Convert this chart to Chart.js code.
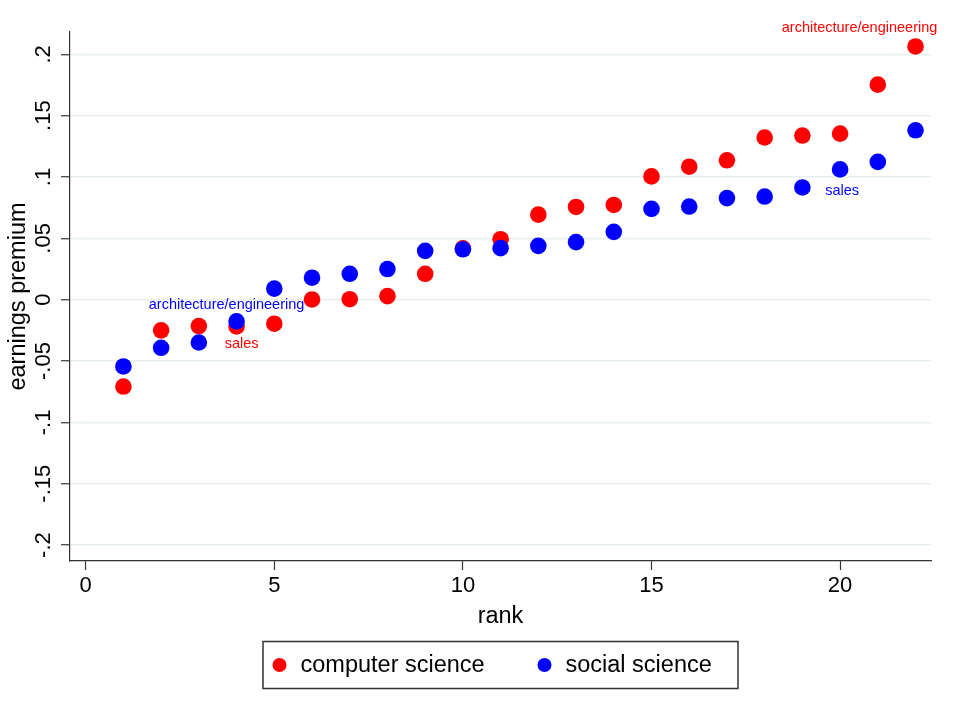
<!DOCTYPE html>
<html>
<head>
<meta charset="utf-8">
<title>earnings premium by rank</title>
<script src="https://cdn.jsdelivr.net/npm/chart.js@4.4.0/dist/chart.umd.min.js"></script>
<style>
    html, body { margin: 0; padding: 0; background: #fff; }
    #wrap { width: 954px; height: 719px; }
</style>
</head>
<body>
<div id="wrap"><canvas id="scatterChart" width="954" height="719"></canvas></div>
<script>
const ranks = [1, 2, 3, 4, 5, 6, 7, 8, 9, 10, 11, 12, 13, 14, 15, 16, 17, 18, 19, 20, 21, 22];
const computerScience = [-0.0708, -0.025, -0.0215, -0.0218, -0.0196, 0.0002, 0.0004, 0.0029, 0.0211, 0.0418, 0.0493,
    0.0693, 0.0756, 0.0772, 0.1005, 0.1084, 0.1136, 0.1322, 0.1338, 0.1354, 0.1753, 0.2064];
const socialScience = [-0.0544, -0.0392, -0.0349, -0.0177, 0.009, 0.0179, 0.0211, 0.025, 0.0398, 0.0411, 0.042,
    0.0439, 0.0469, 0.0553, 0.074, 0.0759, 0.0828, 0.0841, 0.0915, 0.1062, 0.1123, 0.1381];
const seriesNames = ['computer science', 'social science'];
const seriesColors = ['#ff0000', '#0000ff'];
const xTicks = [0, 5, 10, 15, 20];
const yTicks = [-0.2, -0.15, -0.1, -0.05, 0, 0.05, 0.1, 0.15, 0.2];

// marker labels: which series, which rank, what text
const labelSeries = [1, 0, 1, 0];
const labelRanks = [4, 4, 20, 22];
const labelTexts = ['architecture/engineering', 'sales', 'sales', 'architecture/engineering'];

const FONT = '"Liberation Sans", Arial, Helvetica, sans-serif';

function fmtTick(v) {
    const r = Math.round(v * 100) / 100;
    if (r === 0) return '0';
    return String(r).replace('0.', '.');
}

// offsets of each marker label from its point, in pixels
const labelOffsets = [[-10, -16], [5, 18], [2, 22], [-56, -18]];

const markerLabels = {
    id: 'markerLabels',
    afterDatasetsDraw(chart) {
        const ctx = chart.ctx;
        ctx.save();
        ctx.font = '14.5px ' + FONT;
        ctx.textAlign = 'center';
        ctx.textBaseline = 'middle';
        labelTexts.forEach((text, i) => {
            const ds = labelSeries[i];
            const idx = ranks.indexOf(labelRanks[i]);
            const pt = chart.getDatasetMeta(ds).data[idx];
            ctx.fillStyle = seriesColors[ds];
            ctx.fillText(text, pt.x + labelOffsets[i][0], pt.y + labelOffsets[i][1]);
        });
        ctx.restore();
    }
};

const boxedLegend = {
    id: 'boxedLegend',
    afterDraw(chart) {
        const ctx = chart.ctx;
        const area = chart.chartArea;
        const w = 475, h = 47;
        const left = (area.left + area.right) / 2 - w / 2;
        const top = 641.5;
        const midY = top + h / 2;
        ctx.save();
        ctx.strokeStyle = '#333';
        ctx.lineWidth = 1.5;
        ctx.strokeRect(left, top, w, h);
        ctx.font = '23.5px ' + FONT;
        ctx.textBaseline = 'middle';
        ctx.textAlign = 'left';
        const itemX = [16.5, 281.5];
        seriesNames.forEach((name, i) => {
            ctx.fillStyle = seriesColors[i];
            ctx.beginPath();
            ctx.arc(left + itemX[i], midY, 7, 0, Math.PI * 2);
            ctx.fill();
            ctx.fillStyle = '#000';
            ctx.fillText(name, left + itemX[i] + 21, midY + 1);
        });
        ctx.restore();
    }
};

function makePoints(values) {
    return ranks.map((r, i) => ({ x: r, y: values[i] }));
}

const ctx = document.getElementById('scatterChart').getContext('2d');
new Chart(ctx, {
    type: 'scatter',
    data: {
        datasets: [{
            label: seriesNames[0],
            data: makePoints(computerScience),
            backgroundColor: seriesColors[0],
            borderWidth: 0,
            pointRadius: 8.3,
            order: 1
        }, {
            label: seriesNames[1],
            data: makePoints(socialScience),
            backgroundColor: seriesColors[1],
            borderWidth: 0,
            pointRadius: 8.3,
            order: 0
        }]
    },
    options: {
        responsive: false,
        animation: false,
        events: [],
        layout: { padding: { top: 32, right: 23, left: 0, bottom: 88 } },
        plugins: {
            legend: { display: false },
            tooltip: { enabled: false }
        },
        scales: {
            x: {
                type: 'linear',
                min: -0.416,
                max: 22.41,
                afterBuildTicks: scale => { scale.ticks = xTicks.map(v => ({ value: v })); },
                afterFit: scale => { scale.height = 70; },
                grid: { drawOnChartArea: false, drawTicks: true, tickLength: 9, tickColor: '#333', tickWidth: 1.2 },
                border: { display: true, color: '#333', width: 1.2 },
                ticks: {
                    color: '#000',
                    padding: 3,
                    maxRotation: 0,
                    font: { family: FONT, size: 22, lineHeight: 1.2 },
                    callback: v => String(v)
                },
                title: {
                    display: true,
                    text: 'rank',
                    color: '#000',
                    padding: { top: 0, bottom: 0 },
                    font: { family: FONT, size: 23.5, lineHeight: 1.2 }
                }
            },
            y: {
                type: 'linear',
                min: -0.213,
                max: 0.2182,
                afterBuildTicks: scale => { scale.ticks = yTicks.map(v => ({ value: v })); },
                afterFit: scale => { scale.width = 70; },
                grid: { color: '#e8eff1', lineWidth: 1.5, drawTicks: true, tickLength: 9, tickColor: '#333', tickWidth: 1.2 },
                border: { display: true, color: '#333', width: 1.2 },
                ticks: {
                    color: '#000',
                    padding: -2,
                    minRotation: 90,
                    maxRotation: 90,
                    crossAlign: 'center',
                    font: { family: FONT, size: 22, lineHeight: 1.2 },
                    callback: v => fmtTick(v)
                },
                title: {
                    display: true,
                    text: 'earnings premium',
                    color: '#000',
                    padding: { top: 4, bottom: 0 },
                    font: { family: FONT, size: 23.5, lineHeight: 1.2 }
                }
            }
        }
    },
    plugins: [markerLabels, boxedLegend]
});
</script>
</body>
</html>
